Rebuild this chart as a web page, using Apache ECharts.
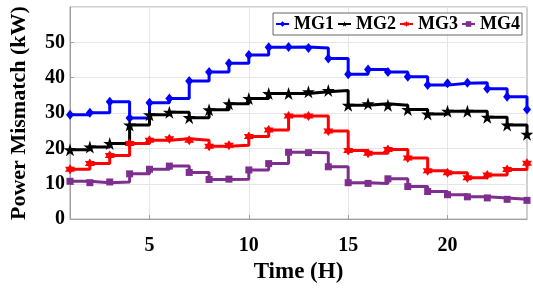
<!DOCTYPE html>
<html>
<head>
<meta charset="utf-8">
<script src="https://cdn.jsdelivr.net/npm/echarts@6/dist/echarts.min.js"></script>
<style>
  html, body { margin: 0; padding: 0; background: #fff; }
  #chart { width: 533px; height: 289px; }
</style>
</head>
<body>
<div id="chart"></div>
<script>
// hours of the day
const hours = [1, 2, 3, 4, 5, 6, 7, 8, 9, 10, 11, 12, 13, 14, 15, 16, 17, 18, 19, 20, 21, 22, 23, 24];
// power mismatch per microgrid (kW)
const mg1 = [29.5, 30.1, 33.2, 28.6, 32.9, 34.1, 39.1, 41.6, 44.1, 46.4, 48.6, 48.7, 48.4, 45.4, 41.0, 42.3, 41.6, 40.3, 37.9, 38.4, 38.6, 36.9, 34.6, 31.0];
const mg2 = [19.6, 20.4, 21.4, 26.6, 29.5, 30.2, 28.7, 30.9, 32.6, 34.1, 35.5, 35.5, 36.0, 36.4, 32.2, 32.6, 32.2, 31.0, 29.7, 30.5, 30.5, 28.8, 26.6, 24.0];
const mg3 = [14.1, 15.7, 18.0, 21.4, 22.3, 22.7, 22.3, 20.6, 20.9, 23.4, 25.2, 29.2, 29.2, 24.9, 19.4, 18.6, 19.7, 17.3, 13.7, 13.1, 11.7, 12.5, 14.0, 15.8];
const mg4 = [10.7, 10.3, 10.5, 12.8, 14.1, 15.0, 13.2, 11.2, 11.3, 13.9, 15.7, 18.9, 18.8, 14.8, 10.3, 10.1, 11.4, 9.2, 7.8, 6.9, 6.3, 6.0, 5.6, 5.3];
const xTicks = [5, 10, 15, 20];

const serif = "'Liberation Serif', 'Times New Roman', serif";
const pentagram = 'path://M50 0 L61.2 34.5 L97.6 34.5 L68.2 55.9 L79.4 90.5 L50 69.1 L20.6 90.5 L31.8 55.9 L2.4 34.5 L38.8 34.5 Z';
const hexagram = 'path://M50 0 L64.4 25 L93.3 25 L78.9 50 L93.3 75 L64.4 75 L50 100 L35.6 75 L6.7 75 L21.1 50 L6.7 25 L35.6 25 Z';

function pairs(vals) {
    return hours.map((h, i) => [h, vals[i]]);
}

function makeSeries(name, vals, color, symbol, size) {
    return {
        name: name,
        type: 'line',
        step: 'end',
        data: pairs(vals),
        symbol: symbol,
        symbolSize: size,
        showAllSymbol: true,
        lineStyle: { color: color, width: 3 },
        itemStyle: { color: color },
        z: 3
    };
}

let chart = echarts.init(document.getElementById('chart'), null, { renderer: 'canvas' });
chart.setOption({
    animation: false,
    backgroundColor: '#fff',
    grid: {
        left: 55, right: 6, top: 7, bottom: 60,
        show: true, borderColor: '#a0a0a0', borderWidth: 1
    },
    legend: {
        right: 11, top: 13,
        orient: 'horizontal',
        backgroundColor: '#fff',
        borderColor: '#666',
        borderWidth: 1,
        padding: [2, 2, 2, 2],
        itemGap: 3,
        itemWidth: 13,
        itemHeight: 7,
        textStyle: { fontFamily: serif, fontWeight: 'bold', fontSize: 18, color: '#000' },
        data: ['MG1', 'MG2', 'MG3', 'MG4']
    },
    xAxis: {
        type: 'value',
        min: 1, max: 24,
        name: 'Time (H)',
        nameLocation: 'middle',
        nameGap: 36,
        nameTextStyle: { fontFamily: serif, fontWeight: 'bold', fontSize: 23, color: '#000' },
        axisLine: { show: true, lineStyle: { color: '#a0a0a0' } },
        axisTick: { show: true, inside: true, length: 4, customValues: xTicks, lineStyle: { color: '#a0a0a0' } },
        axisLabel: {
            customValues: xTicks, margin: 17,
            fontFamily: serif, fontWeight: 'bold', fontSize: 20, color: '#000'
        },
        splitLine: { show: true, lineStyle: { color: '#e6e6e6' } }
    },
    yAxis: {
        type: 'value',
        min: 0, max: 60, interval: 10,
        name: 'Power Mismatch (kW)',
        nameLocation: 'middle',
        nameGap: 40,
        nameTextStyle: { fontFamily: serif, fontWeight: 'bold', fontSize: 22, color: '#000' },
        axisLine: { show: true, lineStyle: { color: '#a0a0a0' } },
        axisTick: { show: true, inside: true, length: 4, lineStyle: { color: '#a0a0a0' } },
        axisLabel: {
            margin: 5, showMaxLabel: false,
            fontFamily: serif, fontWeight: 'bold', fontSize: 20, color: '#000',
            formatter: v => (v >= 60 ? '' : String(v))
        },
        splitLine: { show: true, lineStyle: { color: '#e6e6e6' } }
    },
    series: [
        makeSeries('MG1', mg1, '#0000ff', 'diamond', [8, 10]),
        makeSeries('MG2', mg2, '#000000', pentagram, 13),
        makeSeries('MG3', mg3, '#ff0000', hexagram, 10),
        makeSeries('MG4', mg4, '#7e2f8e', 'rect', 7)
    ]
});
</script>
</body>
</html>
